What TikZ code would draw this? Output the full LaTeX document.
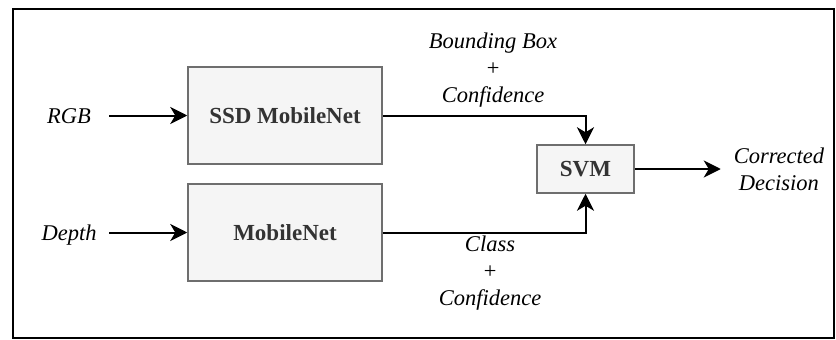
\documentclass[tikz,border=0pt]{standalone}
\usepackage{fontspec}
\setmainfont{Liberation Serif}
\definecolor{boxgray}{RGB}{245,245,245}
\definecolor{edgegray}{RGB}{110,110,110}
\definecolor{textgray}{RGB}{51,51,51}
\usetikzlibrary{positioning, arrows.meta}

\begin{document}
\begin{tikzpicture}[
    x=1pt, y=-1pt,
    net/.style={draw=edgegray, fill=boxgray, line width=1.5pt, text=textgray,
      minimum width=194pt, minimum height=97pt,
      font=\fontsize{23}{28}\selectfont\bfseries},
    tag/.style={font=\fontsize{22.5}{27}\selectfont\itshape, align=center,
      inner sep=0pt},
    source/.style={tag, minimum width=80pt, text height=15pt, text depth=0pt},
    flow/.style={line width=2pt, -{Stealth[length=17pt, width=17pt, inset=5pt]}},
  ]
    \useasboundingbox (0,0) rectangle (836,340);
    \draw[line width=2pt] (13,9) rectangle (834,338);

    % networks
    \node[net] (ssd) at (285,115.5) {SSD MobileNet};
    \node[net] (mnet) at (285,232.5) {MobileNet};
    \node[net, minimum width=97pt, minimum height=48pt] (svm) at (585.5,169) {SVM};

    % inputs and output
    \node[source, left=78pt of ssd] (rgb) {RGB};
    \node[source, left=78pt of mnet] (depth) {Depth};
    \node[tag, minimum width=116pt, right=86pt of svm] (out) {Corrected\\Decision};

    % what goes into the SVM
    \node[tag] (bbconf) at (493,70) {Bounding Box\\+\\Confidence};
    \node[tag] (clsconf) at (490,273) {Class\\+\\Confidence};

    \draw[flow] (rgb) -- (ssd);
    \draw[flow] (depth) -- (mnet);
    \draw[flow] (ssd.east) -| (svm.north);
    \draw[flow] (mnet.east) -| (svm.south);
    \draw[flow] (svm) -- (out);
  \end{tikzpicture}
\end{document}
